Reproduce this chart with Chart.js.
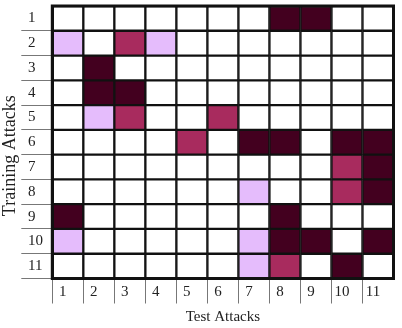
<!DOCTYPE html>
<html>
<head>
<meta charset="utf-8">
<script src="https://cdn.jsdelivr.net/npm/chart.js@4.4.1/dist/chart.umd.min.js"></script>
<style>
  html, body { margin: 0; padding: 0; background: #fff; }
  #wrap { width: 402px; height: 328px; }
</style>
</head>
<body>
<div id="wrap"><canvas id="heat" width="402" height="328"></canvas></div>
<script>
// training attack rows (top to bottom) and test attack columns
const rowLabels = ['1', '2', '3', '4', '5', '6', '7', '8', '9', '10', '11'];
const colLabels = ['1', '2', '3', '4', '5', '6', '7', '8', '9', '10', '11'];

// shade level of each cell: 0 white, 1 light, 2 medium, 3 dark
const train1  = [0, 0, 0, 0, 0, 0, 0, 3, 3, 0, 0];
const train2  = [1, 0, 2, 1, 0, 0, 0, 0, 0, 0, 0];
const train3  = [0, 3, 0, 0, 0, 0, 0, 0, 0, 0, 0];
const train4  = [0, 3, 3, 0, 0, 0, 0, 0, 0, 0, 0];
const train5  = [0, 1, 2, 0, 0, 2, 0, 0, 0, 0, 0];
const train6  = [0, 0, 0, 0, 2, 0, 3, 3, 0, 3, 3];
const train7  = [0, 0, 0, 0, 0, 0, 0, 0, 0, 2, 3];
const train8  = [0, 0, 0, 0, 0, 0, 1, 0, 0, 2, 3];
const train9  = [3, 0, 0, 0, 0, 0, 0, 3, 0, 0, 0];
const train10 = [1, 0, 0, 0, 0, 0, 1, 3, 3, 0, 3];
const train11 = [0, 0, 0, 0, 0, 0, 1, 2, 0, 3, 0];

const levelColors = ['#ffffff', '#e5bcfc', '#a82b5e', '#43001f'];

const rows = [train1, train2, train3, train4, train5, train6, train7, train8, train9, train10, train11];

const ctx = document.getElementById("heat").getContext("2d");

// one dataset per test column, each bar spans [col, col + 1]
const datasets = colLabels.map((c, j) => ({
    label: c,
    data: rows.map(r => [j, j + 1]),
    backgroundColor: rows.map(r => levelColors[r[j]]),
    borderColor: '#111',
    borderWidth: 1.5,
    borderSkipped: false,
    grouped: false,
    categoryPercentage: 1,
    barPercentage: 1
}));

const frame = {
    id: 'frame',
    afterDatasetsDraw(chart) {
        const a = chart.chartArea;
        const c = chart.ctx;
        c.save();
        c.strokeStyle = '#111';
        c.lineWidth = 3;
        c.strokeRect(a.left, a.top, a.right - a.left, a.bottom - a.top);
        c.restore();
    }
};

const serif = { family: '"Liberation Serif", "Times New Roman", serif', size: 15 };

new Chart(ctx, {
    type: 'bar',
    data: { labels: rowLabels, datasets: datasets },
    plugins: [frame],
    options: {
        indexAxis: 'y',
        responsive: false,
        animation: false,
        layout: { padding: { top: 6, right: 8.5, left: 0, bottom: 0 } },
        plugins: {
            legend: { display: false },
            tooltip: { enabled: false }
        },
        scales: {
            x: {
                type: 'linear',
                position: 'bottom',
                min: 0,
                max: colLabels.length,
                afterFit: s => { s.height = 49.5; },
                border: { display: false },
                grid: {
                    drawOnChartArea: false,
                    tickLength: 25,
                    color: ctx => ctx.index >= colLabels.length ? 'transparent' : '#777',
                    lineWidth: 1
                },
                ticks: {
                    stepSize: 1,
                    autoSkip: false,
                    maxRotation: 0,
                    padding: -20.5,
                    labelOffset: 10.5,
                    color: '#222',
                    font: serif,
                    callback: v => colLabels[v] || ''
                },
                title: {
                    display: true,
                    text: 'Test Attacks',
                    color: '#222',
                    font: serif,
                    padding: { top: 0, bottom: 2 }
                }
            },
            y: {
                type: 'category',
                afterFit: s => { s.width = 52.3; },
                border: { display: false },
                grid: {
                    offset: true,
                    drawOnChartArea: false,
                    tickLength: 31,
                    color: ctx => ctx.index === 0 ? 'transparent' : '#777',
                    lineWidth: 1
                },
                ticks: {
                    mirror: true,
                    padding: -24.3,
                    color: '#222',
                    font: serif
                },
                title: {
                    display: true,
                    // trailing spaces push the centred text a little lower, as in the reference
                    text: 'Training Attacks      ',
                    color: '#222',
                    font: { family: serif.family, size: 18 },
                    padding: { top: -0.5, bottom: 0 }
                }
            }
        }
    }
});
</script>
</body>
</html>
